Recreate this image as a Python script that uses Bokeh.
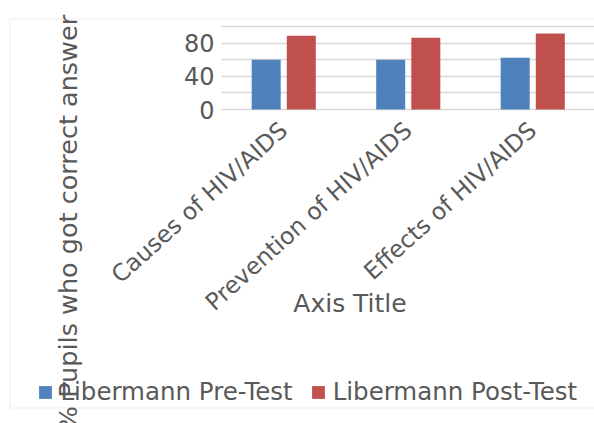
from math import pi, radians
from bokeh.plotting import figure
from bokeh.models import (ColumnDataSource, Range1d, FixedTicker, Legend, LegendItem,
                          Label, BoxAnnotation, Grid)
from bokeh.transform import dodge
from bokeh.embed import file_html
from bokeh.resources import INLINE

# ---- data ----
categories = ["Causes of HIV/AIDS", "Prevention of HIV/AIDS", "Effects of HIV/AIDS"]
pre_test = [60, 60, 62.5]
post_test = [89, 86.5, 91.5]
series_names = ["Libermann Pre-Test", "Libermann Post-Test"]
y_tick_values = [0, 40, 80]
grid_values = [0, 20, 40, 60, 80, 100]
x_title = "Axis Title"
y_title = "% Pupils who got correct answer"

FONT = "DejaVu Sans"
TXT = "#595959"
BLUE = "#4F81BD"
RED = "#C0504D"
GRID = "#d9d9d9"

W, H = 594, 423
PX_PER_CAT = 124.5          # pixels per category slot
PX_PER_UNIT = 0.83          # pixels per y unit
PLOT_LEFT, PLOT_BOTTOM = 221, 109   # pixel position of the plot area's origin

x_centers = [i + 0.5 for i in range(len(categories))]
src = ColumnDataSource(dict(x=x_centers, cat=categories, pre=pre_test, post=post_test))

p = figure(width=W, height=H,
           x_range=Range1d(-PLOT_LEFT / PX_PER_CAT, (W - PLOT_LEFT) / PX_PER_CAT),
           y_range=Range1d(-(H - PLOT_BOTTOM) / PX_PER_UNIT, PLOT_BOTTOM / PX_PER_UNIT),
           output_backend="svg", toolbar_location=None,
           min_border_left=0, min_border_right=0, min_border_top=0, min_border_bottom=0)
p.outline_line_color = None
p.background_fill_color = "white"
p.border_fill_color = "white"

# grid lines (only across the plot area)
p.xgrid.visible = False
if "cross_bounds" in Grid.properties():
    p.ygrid.ticker = FixedTicker(ticks=grid_values)
    p.ygrid.grid_line_color = GRID
    p.ygrid.grid_line_width = 1.5
    p.ygrid.cross_bounds = (0, len(categories))
else:
    p.ygrid.visible = False
    p.segment(x0=[0] * len(grid_values), x1=[len(categories)] * len(grid_values),
              y0=grid_values, y1=grid_values, line_color=GRID, line_width=1.5)

r_pre = p.vbar(x=dodge("x", -0.141), top="pre", width=0.233,
               source=src, fill_color=BLUE, line_color=None)
r_post = p.vbar(x=dodge("x", 0.141), top="post", width=0.233,
                source=src, fill_color=RED, line_color=None)

# y axis, pinned to the plot-area's left edge
p.yaxis.fixed_location = 0
p.yaxis.ticker = FixedTicker(ticks=y_tick_values)
p.yaxis.axis_line_color = None
p.yaxis.major_tick_line_color = None
p.yaxis.minor_tick_line_color = None
p.yaxis.major_label_standoff = 1
p.yaxis.major_label_text_font = FONT
p.yaxis.major_label_text_font_size = "24px"
p.yaxis.major_label_text_color = TXT

# x axis, pinned at y = 0
p.xaxis.fixed_location = 0
p.xaxis.ticker = FixedTicker(ticks=x_centers)
p.xaxis.major_label_overrides = {x: c for x, c in zip(x_centers, categories)}
p.xaxis.axis_line_color = None
p.xaxis.major_tick_line_color = None
p.xaxis.minor_tick_line_color = None
p.xaxis.major_label_orientation = radians(42)
p.xaxis.major_label_standoff = 11
p.xaxis.major_label_text_font = FONT
p.xaxis.major_label_text_font_size = "23.5px"
p.xaxis.major_label_text_color = TXT

# chart border
p.add_layout(BoxAnnotation(left=9.5, right=W + 50, top=H - 18.5, bottom=H - 407.5,
                           left_units="screen", right_units="screen",
                           top_units="screen", bottom_units="screen",
                           fill_alpha=0, line_color=GRID, line_width=1.5))

# axis titles
p.add_layout(Label(x=349.5, y=H - 303, x_units="screen", y_units="screen", text=x_title,
                   text_font=FONT, text_font_size="25px", text_color=TXT,
                   text_align="center", text_baseline="alphabetic"))
p.add_layout(Label(x=67, y=H - 222, x_units="screen", y_units="screen", text=y_title,
                   angle=pi / 2, text_font=FONT, text_font_size="25.5px", text_color=TXT,
                   text_align="center", text_baseline="alphabetic"))

# legend
legend = Legend(items=[LegendItem(label=series_names[0], renderers=[r_pre]),
                       LegendItem(label=series_names[1], renderers=[r_post])],
                orientation="horizontal", location=(37.4, H - 406),
                glyph_width=16, glyph_height=16, label_standoff=7, spacing=17,
                padding=0, margin=0, border_line_color=None, background_fill_alpha=0,
                label_text_font=FONT, label_text_font_size="24.5px", label_text_color=TXT)
p.add_layout(legend)

open("out.html", "w").write(file_html(p, INLINE))
